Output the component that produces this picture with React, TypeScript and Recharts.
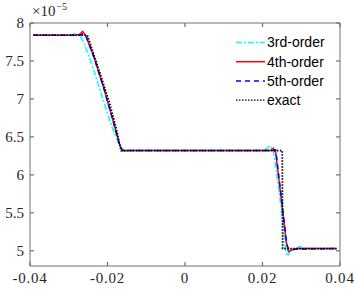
import React from "react";
import { ComposedChart, Line, Scatter, XAxis, YAxis, Legend, ReferenceArea } from "recharts";

const xTicks = [-0.04, -0.02, 0, 0.02, 0.04];
const xTickLabels = ["-0.04", "-0.02", "0", "0.02", "0.04"];
const yTicks = [5, 5.5, 6, 6.5, 7, 7.5, 8];
const yTickLabels = ["5", "5.5", "6", "6.5", "7", "7.5", "8"];
const xDomain = [-0.04, 0.04];
const yDomain = [4.8, 8];

const thirdX = [-0.0391, -0.0295, -0.0285, -0.0272, -0.026, -0.024, -0.0215, -0.019, -0.0168, -0.0155, -0.0145, 0.0205, 0.0218, 0.0228, 0.0245, 0.026, 0.0265, 0.0272, 0.0285, 0.0297, 0.031, 0.0391];
const thirdY = [7.84, 7.84, 7.86, 7.84, 7.73, 7.45, 7.05, 6.65, 6.38, 6.31, 6.32, 6.32, 6.38, 6.33, 5.7, 5.0, 4.93, 5.0, 5.02, 5.06, 5.03, 5.03];

const fourthX = [-0.0391, -0.0285, -0.0272, -0.0264, -0.0255, -0.0235, -0.021, -0.0185, -0.017, -0.0162, 0.022, 0.0228, 0.0234, 0.0262, 0.0267, 0.0275, 0.029, 0.0391];
const fourthY = [7.84, 7.84, 7.85, 7.89, 7.82, 7.55, 7.15, 6.7, 6.42, 6.32, 6.32, 6.35, 6.3, 5.1, 4.99, 5.01, 5.03, 5.03];

const fifthX = [-0.0391, -0.027, -0.0262, -0.0255, -0.0235, -0.021, -0.0185, -0.0168, -0.0162, 0.0228, 0.0234, 0.0263, 0.0268, 0.0391];
const fifthY = [7.84, 7.84, 7.86, 7.82, 7.55, 7.15, 6.7, 6.38, 6.32, 6.32, 6.33, 5.08, 5.02, 5.03];

const exactX = [-0.0391, -0.0252, -0.0235, -0.0215, -0.0195, -0.0178, -0.0165, 0.0251, 0.0252, 0.0391];
const exactY = [7.84, 7.84, 7.58, 7.27, 6.95, 6.62, 6.32, 6.32, 5.03, 5.03];

const seriesNames = ["3rd-order", "4th-order", "5th-order", "exact"];
const seriesColors = ["#00ffff", "#ff0000", "#0000ff", "#000000"];
const seriesDash = ["6 2 2 2", "", "5 4", "1.5 1.5"];

const toPts = (xs: number[], ys: number[]) => xs.map((x, i) => ({ x, y: ys[i] }));

const third = toPts(thirdX, thirdY);
const fourth = toPts(fourthX, fourthY);
const fifth = toPts(fifthX, fifthY);
const exact = toPts(exactX, exactY);
const allSeries = [third, fourth, fifth, exact];

// inward tick marks on all four sides of the box, placed through the chart's scales
const tickMarks = [
  ...xTicks.map((x) => ({ x, y: yDomain[0], dx: 0, dy: -1 })),
  ...xTicks.map((x) => ({ x, y: yDomain[1], dx: 0, dy: 1 })),
  ...yTicks.map((y) => ({ x: xDomain[0], y, dx: 1, dy: 0 })),
  ...yTicks.map((y) => ({ x: xDomain[1], y, dx: -1, dy: 0 })),
];

const AXIS = "#707070";
const TEXT = "#262626";
const TL = 4;
const tickFont = "'Liberation Serif', serif";
const TFS = 15;

const xLabel = (v: number) => xTickLabels[xTicks.indexOf(v)] ?? String(v);
const yLabel = (v: number) => yTickLabels[yTicks.indexOf(v)] ?? String(v);

const TickMarkShape = (p: any) => {
  const { cx, cy, payload } = p;
  if (cx == null || cy == null) return <g />;
  return (
    <path d={`M${cx},${cy}L${cx + payload.dx * TL},${cy + payload.dy * TL}`} stroke={AXIS} strokeWidth={1.2} fill="none" />
  );
};

function BottomTick(p: any) {
  return (
    <text x={p.x} y={p.y + 17} textAnchor="middle" fill={TEXT} fontSize={TFS} letterSpacing={0.8} fontFamily={tickFont}>
      {xLabel(p.payload.value)}
    </text>
  );
}
function LeftTick(p: any) {
  return (
    <text x={p.x - 6} y={p.y} dy="0.33em" textAnchor="end" fill={TEXT} fontSize={TFS} fontFamily={tickFont}>
      {yLabel(p.payload.value)}
    </text>
  );
}

const LegendContent = () => (
  <svg width={110} height={80} style={{ display: "block" }}>
    {seriesNames.map((n, i) => (
      <g key={n}>
        <line x1={0} x2={29} y1={9.5 + i * 19.2} y2={9.5 + i * 19.2} stroke={seriesColors[i]} strokeWidth={i === 3 ? 1.2 : 1.5} strokeDasharray={seriesDash[i] || undefined} />
        <text x={31} y={9.5 + i * 19.2} dy="0.35em" fontSize={14} fill="#000" fontFamily="'Liberation Sans', Arial, sans-serif">
          {n}
        </text>
      </g>
    ))}
  </svg>
);

export default function App() {
  return (
    <div style={{ position: "absolute", left: 0, top: 0, width: 354, height: 293 }}>
      <ComposedChart width={354} height={293} margin={{ top: 23, right: 14, bottom: 0, left: 0 }}>
        <ReferenceArea x1={xDomain[0]} x2={xDomain[1]} y1={yDomain[0]} y2={yDomain[1]} fill="none" fillOpacity={0} stroke={AXIS} strokeWidth={1} ifOverflow="visible" />
        <XAxis dataKey="x" type="number" domain={xDomain} ticks={xTicks} tickSize={0} tickMargin={0} tick={<BottomTick />} height={27} axisLine={false} tickLine={false} allowDuplicatedCategory={false} />
        <YAxis dataKey="y" type="number" domain={yDomain} ticks={yTicks} tickSize={0} tickMargin={0} tick={<LeftTick />} width={30} axisLine={false} tickLine={false} />
        <Scatter data={tickMarks} dataKey="y" shape={TickMarkShape} isAnimationActive={false} legendType="none" />
        {allSeries.map((d, i) => (
          <Line key={seriesNames[i]} data={d} dataKey="y" name={seriesNames[i]} type="linear" stroke={seriesColors[i]} strokeWidth={i === 3 ? 1.8 : 1.5} strokeDasharray={seriesDash[i] || undefined} dot={false} activeDot={false} isAnimationActive={false} />
        ))}
        <Legend layout="horizontal" verticalAlign="middle" align="center" content={LegendContent} wrapperStyle={{ position: "absolute", left: 236, top: 33, width: 110, height: 80 }} />
      </ComposedChart>
      <div style={{ position: "absolute", left: 32, top: 4, fontFamily: tickFont, fontSize: 15, lineHeight: "15px", color: TEXT, whiteSpace: "nowrap" }}>
        ×10
        <span style={{ position: "relative", top: -6, fontSize: 10, marginLeft: 1 }}>−5</span>
      </div>
    </div>
  );
}
